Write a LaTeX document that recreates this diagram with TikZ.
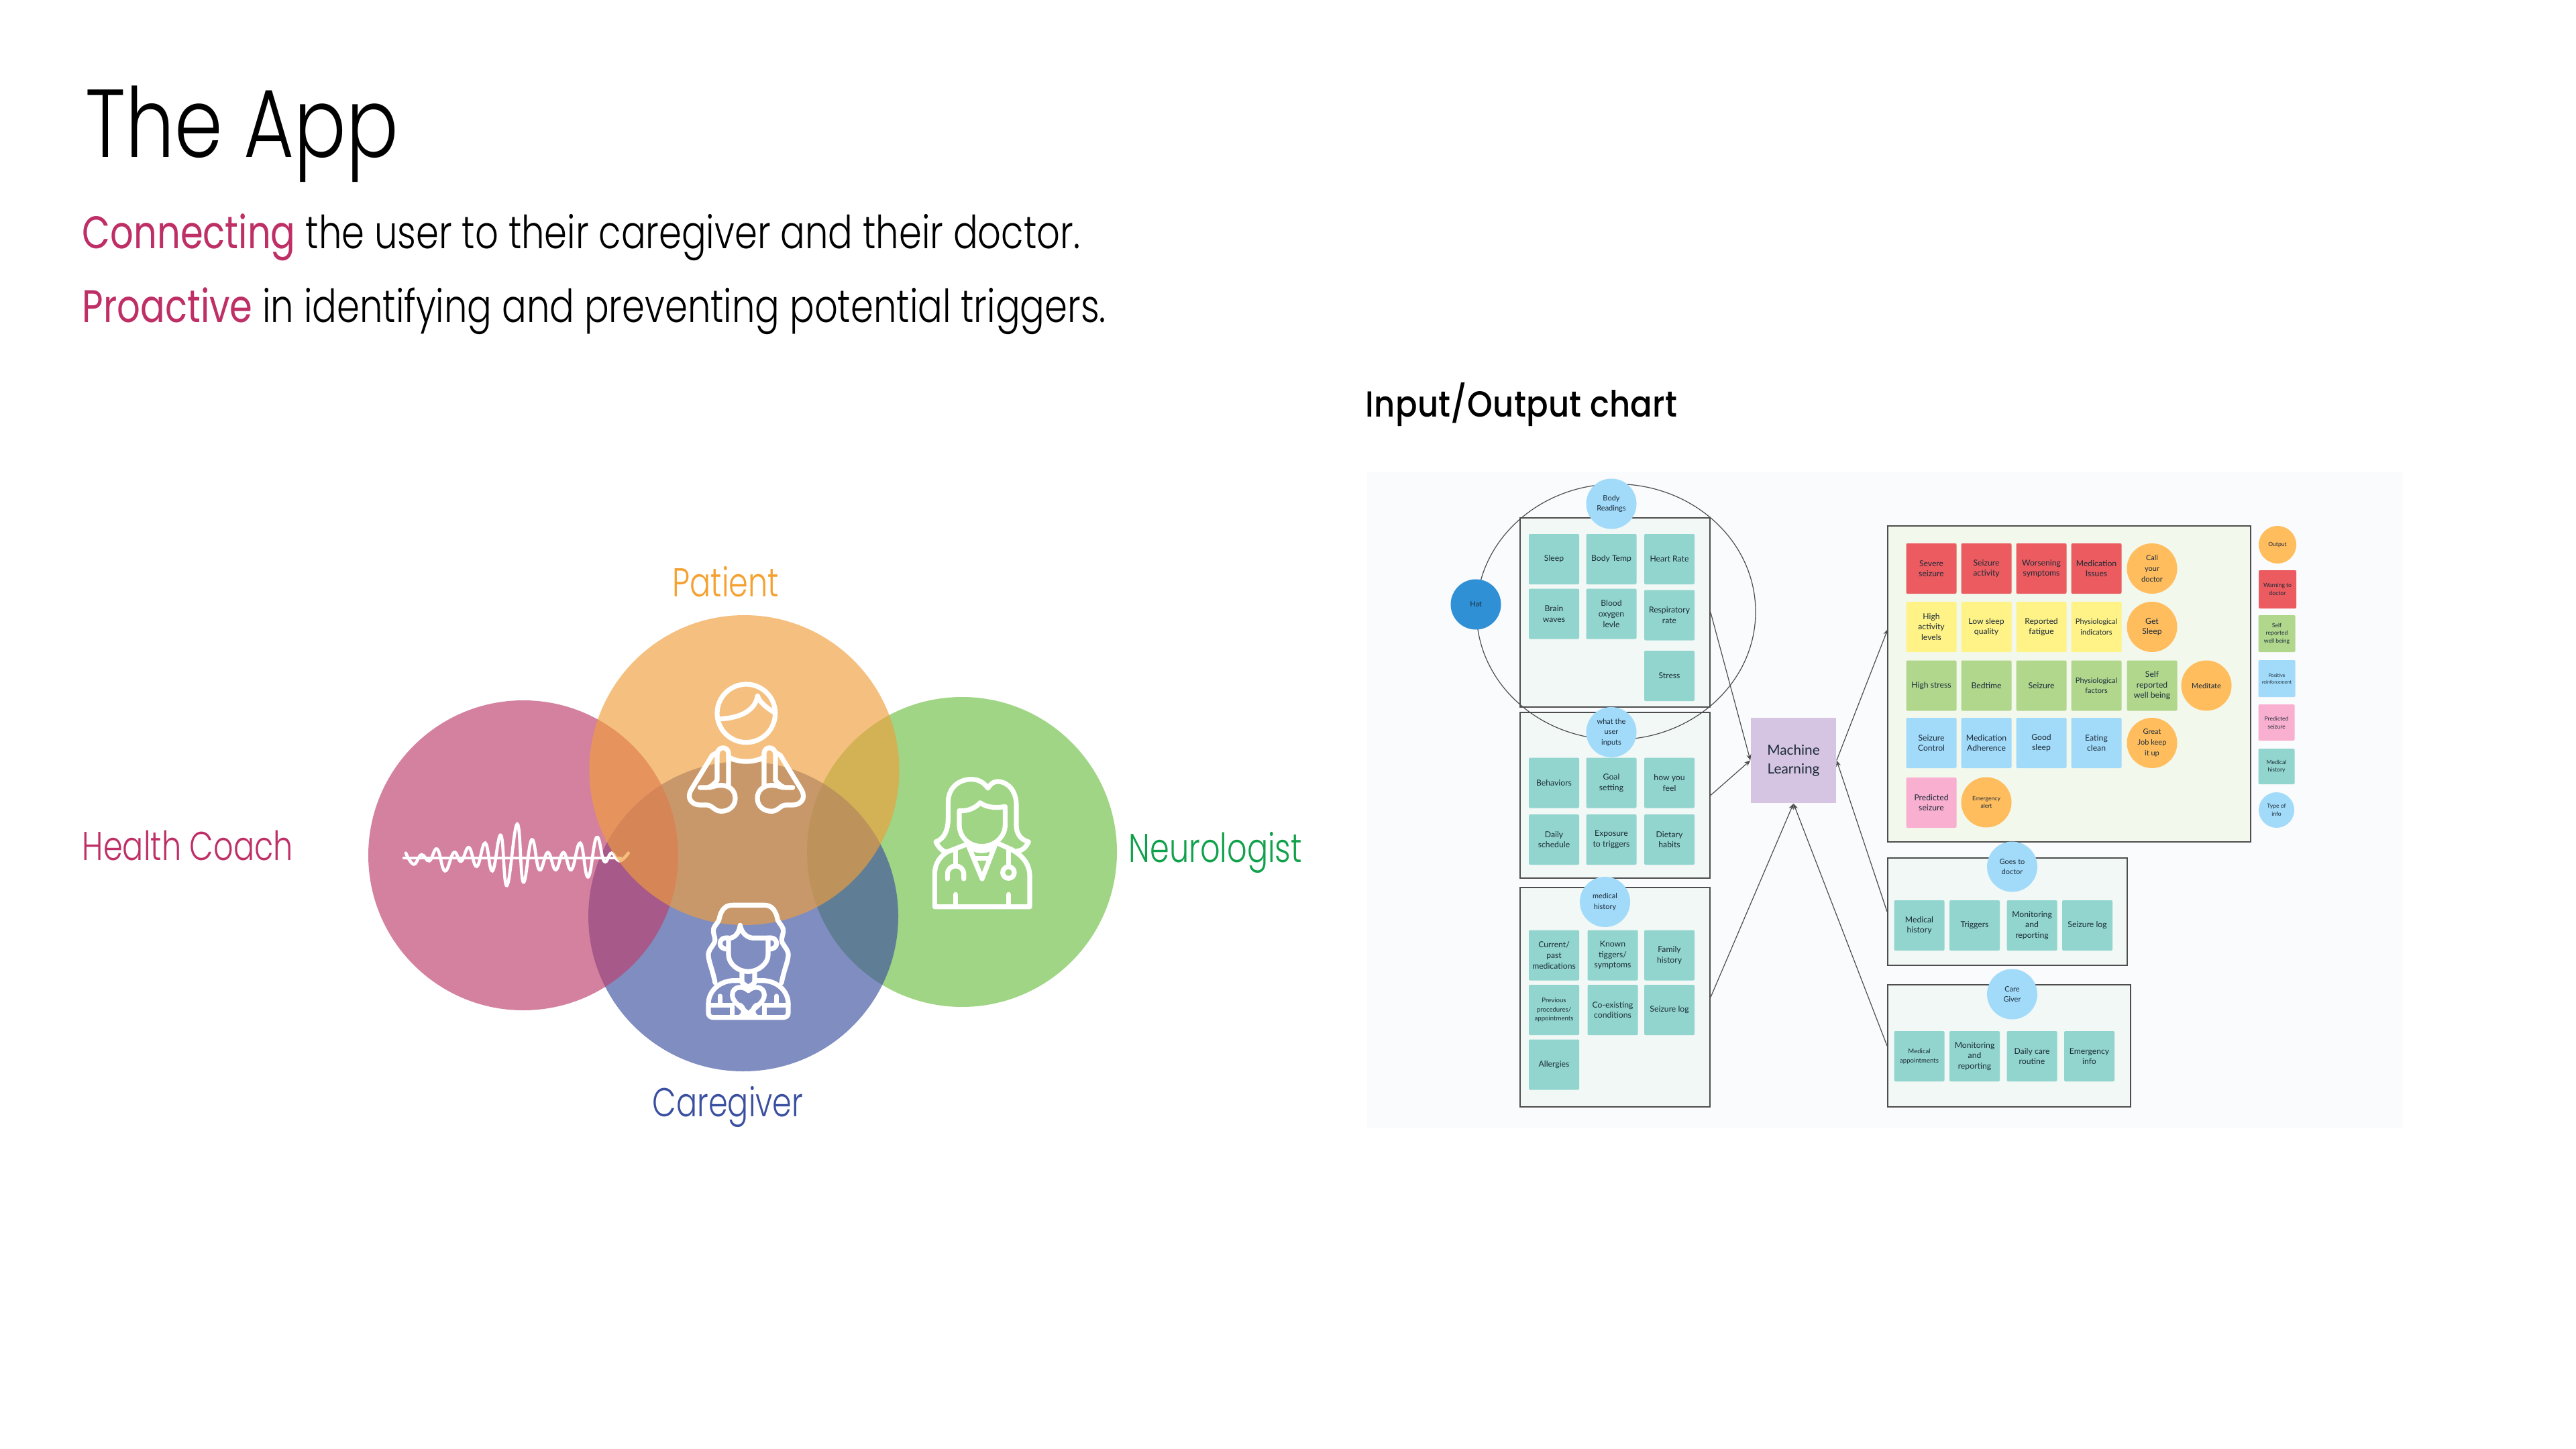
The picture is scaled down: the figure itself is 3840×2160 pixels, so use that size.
\documentclass[tikz,border=0pt]{standalone}
\usepackage{fontspec}
\usetikzlibrary{arrows.meta,shapes.geometric}
\setmainfont{Lato}
\newfontfamily\futT{Poppins Light}[FakeStretch=0.80]
\newfontfamily\futS{Poppins Light}[FakeStretch=0.80]
\newfontfamily\futR{Poppins}[FakeStretch=0.80]
\newfontfamily\futL{Poppins Light}[FakeStretch=0.77]
\newfontfamily\futm{Poppins Medium}[FakeStretch=0.89,LetterSpace=0.5]
\definecolor{teal}{HTML}{92D5CE}
\definecolor{redc}{HTML}{EB5B5F}
\definecolor{yel}{HTML}{FFF287}
\definecolor{grn}{HTML}{B1D78D}
\definecolor{blu}{HTML}{A2DBFA}
\definecolor{pnk}{HTML}{F9AFD0}
\definecolor{org}{HTML}{FFBD5E}
\definecolor{hatc}{HTML}{2F90D5}
\definecolor{mlc}{HTML}{D5C5E2}
\definecolor{ink}{HTML}{1B2A38}
\definecolor{edge}{HTML}{4D4D4D}
\definecolor{vCoral}{HTML}{BD3E6C}
\definecolor{vOrange}{HTML}{F09E3C}
\definecolor{vBlue}{HTML}{3D50A0}
\definecolor{vGreen}{HTML}{6DC044}
\definecolor{lCrimson}{HTML}{BE2F66}
\definecolor{lOrange}{HTML}{F5A02F}
\definecolor{lGreen}{HTML}{12A14B}
\definecolor{lBlue}{HTML}{3A4FA0}
\definecolor{paneltint}{HTML}{FAFBFD}
\definecolor{boxtint}{HTML}{F1F8F6}
\definecolor{outtint}{HTML}{F3F8EC}
\tikzset{
  wh/.style 2 args={minimum width=#1*0.25pt,minimum height=#2*0.25pt},
  fA/.style={font=\fontsize{3.4}{3.9}\selectfont},
  fB/.style={font=\fontsize{3.05}{3.9}\selectfont},
  fC/.style={font=\fontsize{2.75}{3.9}\selectfont},
  fD/.style={font=\fontsize{2.4}{3.4}\selectfont},
  fE/.style={font=\fontsize{2.15}{2.95}\selectfont},
  fF/.style={font=\fontsize{1.8}{2.5}\selectfont},
  card/.style={rectangle,rounded corners=0.5pt,inner sep=0pt,align=center,text=ink,wh={75}{75},fB},
  tcard/.style={card,fill=teal},
  rcard/.style={card,fill=redc},
  ycard/.style={card,fill=yel},
  gcard/.style={card,fill=grn},
  bcard/.style={card,fill=blu},
  pcard/.style={card,fill=pnk},
  dot/.style={circle,inner sep=0pt,align=center,text=ink,minimum size=75*0.25pt,fC},
  bdot/.style={dot,fill=blu},
  odot/.style={dot,fill=org},
  group/.style={rectangle,draw=edge,line width=0.5pt,inner sep=0pt},
  tbox/.style={group,fill=boxtint},
  link/.style={draw=edge,line width=0.3pt},
  tip/.style={-{Stealth[length=2.2pt,width=1.8pt]}},
  venn/.style={circle,inner sep=0pt,minimum size=462*0.25pt,fill opacity=0.65},
  icon/.style={draw=white,line width=1.8pt,line cap=round,line join=round},
  vlabel/.style={inner sep=0pt,font=\futL\fontsize{15}{18}\selectfont},
}
\begin{document}
\begin{tikzpicture}[x=0.25pt,y=-0.25pt]
\useasboundingbox (0,0) rectangle (3840,2160);
\fill[white] (0,0) rectangle (3840,2160);
% heading
\node[anchor=base west,inner sep=0pt,font=\futT\fontsize{36}{44}\selectfont] (title) at (127,235) {The App};
\node[anchor=base west,inner sep=0pt,font=\futS\fontsize{17}{20}\selectfont] (sub1) at (122,371) {\textcolor{lCrimson}{\futR Connecting} the user to their caregiver and their doctor.};
\node[anchor=base west,inner sep=0pt,font=\futS\fontsize{17}{20}\selectfont] (sub2) at (122,481) {\textcolor{lCrimson}{\futR Proactive} in identifying and preventing potential triggers.};
\node[anchor=base west,inner sep=0pt,font=\futm\fontsize{13.5}{16}\selectfont] (chartT) at (2035,622) {Input/Output chart};
% venn
\node[venn,fill=vGreen] (vg) at (1434,1270) {};
\node[venn,fill=vBlue] (vb) at (1108,1366) {};
\node[venn,fill=vCoral] (vc) at (780,1275) {};
% wave
\draw[white,line width=1.1pt,line cap=round] (602,1279) -- (925,1279);
\begin{scope}[shift={(580,1200)},scale=0.33333]
\draw[white,line width=1.15pt,line cap=round] plot[smooth,tension=0.75] coordinates {(75,215) (110,265) (145,222) (180,250) (215,197) (250,295) (290,212) (322,252) (357,190) (392,275) (430,170) (462,295) (500,135) (527,360) (573,85) (600,345) (638,155) (672,290) (710,212) (745,290) (780,212) (815,290) (855,170) (890,322) (928,145) (962,252) (995,215) (1030,250) (1070,215)};
\end{scope}
\node[venn,fill=vOrange] (vo) at (1109.5,1148) {};
% patient icon
\begin{scope}[shift={(1000,1000)},scale=0.33333]
\draw[icon] (337,190) circle (130);
\draw[icon] (225,215) .. controls (300,210) and (375,185) .. (388,112) .. controls (395,140) and (430,165) .. (460,185);
\draw[icon] (258,385) .. controls (300,412) and (375,412) .. (417,385);
\foreach \sx/\ox in {1/0,-1/675}{
\begin{scope}[shift={(\ox,0)},xscale=\sx]
\draw[icon] (258,520) -- (258,370) .. controls (258,335) and (207,335) .. (207,375) -- (207,490) .. controls (190,510) and (175,522) .. (160,522) -- (130,522);
\draw[icon] (170,522) .. controls (190,520) and (195,512) .. (225,512) .. controls (262,512) and (288,535) .. (288,570) .. controls (288,605) and (260,628) .. (225,628) .. controls (195,628) and (185,600) .. (160,600) -- (130,600) .. controls (100,600) and (65,575) .. (92,530) -- (185,378) -- (207,365);
\end{scope}}
\end{scope}
% caregiver icon
\begin{scope}[shift={(1020,1330)},scale=0.33333]
\foreach \sx/\ox in {1/0,-1/573}{
\begin{scope}[shift={(\ox,0)},xscale=\sx]
\draw[icon] (286.5,58) -- (215,58) .. controls (190,58) and (165,70) .. (155,125) .. controls (145,145) and (128,155) .. (130,175) .. controls (132,195) and (142,210) .. (135,225) .. controls (125,245) and (105,260) .. (108,285) .. controls (112,320) and (125,340) .. (138,405);
\draw[icon] (200,205) .. controls (170,200) and (160,215) .. (160,230) .. controls (160,245) and (175,255) .. (195,255);
\draw[icon] (108,500) .. controls (108,440) and (160,395) .. (225,395) -- (258,395);
\draw[icon] (108,500) -- (108,540) .. controls (108,553) and (118,560) .. (130,560) -- (286.5,560);
\draw[icon] (110,505) -- (215,505);
\draw[icon] (215,505) -- (215,555);
\draw[icon] (160,465) -- (160,500);
\draw[icon] (286.5,440) .. controls (265,418) and (215,418) .. (215,460) .. controls (215,490) and (250,510) .. (286.5,545);
\draw[icon] (258,360) -- (258,405) -- (286.5,425);
\draw[icon] (250,505) .. controls (270,520) and (270,545) .. (252,556);
\end{scope}}
\draw[icon] (207,205) .. controls (230,200) and (245,180) .. (250,148) .. controls (255,180) and (280,205) .. (310,205) -- (375,205);
\draw[icon] (198,205) -- (198,280) .. controls (198,320) and (240,355) .. (286,355) .. controls (330,355) and (375,320) .. (375,280) -- (375,205);
\end{scope}
% neurologist icon
\begin{scope}[shift={(1380,1140)},scale=0.33333]
\draw[icon] (90,390) .. controls (70,385) and (55,365) .. (45,345) .. controls (85,330) and (100,290) .. (100,240) -- (100,170) .. controls (100,100) and (150,65) .. (205,65) .. controls (240,65) and (265,85) .. (278,105) .. controls (290,85) and (305,75) .. (320,75) .. controls (370,75) and (405,120) .. (405,180) -- (405,270) .. controls (405,310) and (425,335) .. (460,345) .. controls (450,365) and (435,385) .. (410,385);
\draw[icon] (150,205) .. controls (190,210) and (225,190) .. (243,170) .. controls (270,190) and (310,195) .. (355,187) -- (355,270) .. controls (355,320) and (310,365) .. (250,365) .. controls (190,365) and (150,320) .. (150,270) -- cycle;
\draw[icon] (185,355) -- (95,390) .. controls (65,410) and (40,440) .. (40,490) -- (40,635) -- (465,635) -- (465,500) .. controls (465,450) and (440,410) .. (385,380) -- (320,350);
\draw[icon] (190,360) -- (252,510) -- (310,360);
\draw[icon] (210,375) .. controls (235,388) and (270,388) .. (295,372);
\draw[icon] (225,418) -- (278,418);
\draw[icon] (133,385) -- (133,450);
\draw[icon] (97,510) -- (97,490) .. controls (97,440) and (170,440) .. (170,490) -- (170,510);
\draw[icon] (370,380) -- (370,450);
\draw[icon] (370,482) circle (26);
\draw[icon] (133,580) -- (133,630);
\draw[icon] (370,580) -- (370,630);
\end{scope}
% venn labels
\node[vlabel,text=lOrange] (lpat) at (1082,867) {Patient};
\node[vlabel,text=lCrimson,anchor=west] (lhc) at (122,1261) {Health Coach};
\node[vlabel,text=lGreen,anchor=west] (lneu) at (1682,1271) {Neurologist};
\node[vlabel,text=lBlue] (lcar) at (1085,1650) {Caregiver};
% chart panel
\node[rectangle,fill=paneltint,inner sep=0pt,wh={1543}{979}] (panel) at (2809.5,1192.5) {};
% groups
\node[tbox,wh={283}{282}] (bodybox) at (2407.5,913) {};
\node[tbox,wh={283}{247}] (inputbox) at (2407.5,1185.5) {};
\node[tbox,wh={283}{327}] (medbox) at (2407.5,1486.5) {};
\node[group,fill=outtint,wh={541}{471}] (outbox) at (3084.5,1019.5) {};
\node[tbox,wh={357}{160}] (docbox) at (2992.5,1359) {};
\node[tbox,wh={361.5}{182}] (carebox) at (2994.75,1559) {};
\node[ellipse,draw=edge,line width=0.3pt,inner sep=0pt,wh={416}{381}] (hatring) at (2409,912) {};
% body readings
\node[tcard] (b1) at (2316.5,833.5) {Sleep};
\node[tcard] (b2) at (2402,833.5) {Body Temp};
\node[tcard] (b3) at (2488.5,833.5) {Heart Rate};
\node[tcard] (b4) at (2316.5,915) {Brain\\waves};
\node[tcard] (b5) at (2402,915) {Blood\\oxygen\\levle};
\node[tcard] (b6) at (2488.5,917) {Respiratory\\rate};
\node[tcard] (b7) at (2488.5,1007.5) {Stress};
\node[dot,fill=hatc] (hat) at (2200,901) {Hat};
\node[bdot] (bodyc) at (2402,751) {Body\\Readings};
% user inputs
\node[tcard] (i1) at (2316.5,1167) {Behaviors};
\node[tcard] (i2) at (2402,1167) {Goal\\setting};
\node[tcard] (i3) at (2488.5,1167) {how you\\feel};
\node[tcard] (i4) at (2316.5,1251.5) {Daily\\schedule};
\node[tcard] (i5) at (2402,1251.5) {Exposure\\to triggers};
\node[tcard] (i6) at (2488.5,1251.5) {Dietary\\habits};
\node[bdot] (inputc) at (2402,1091.5) {what the\\user\\inputs};
% medical history
\node[tcard] (m1) at (2316.5,1424) {Current/\\past\\medications};
\node[tcard] (m2) at (2404,1424) {Known\\tiggers/\\symptoms};
\node[tcard] (m3) at (2488.5,1424) {Family\\history};
\node[tcard,fD] (m4) at (2316.5,1505.5) {Previous\\procedures/\\appointments};
\node[tcard] (m5) at (2404,1505.5) {Co-existing\\conditions};
\node[tcard] (m6) at (2488.5,1505.5) {Seizure log};
\node[tcard] (m7) at (2316.5,1587) {Allergies};
\node[bdot] (medc) at (2392.5,1344.5) {medical\\history};
% machine learning
\node[rectangle,fill=mlc,inner sep=0pt,align=center,text=ink,wh={127}{127},font=\fontsize{5.2}{6.9}\selectfont] (ml) at (2673.5,1133.5) {Machine\\Learning};
% outputs
\node[rcard] (o1) at (2879,847.5) {Severe\\seizure};
\node[rcard] (o2) at (2961,847.5) {Seizure\\activity};
\node[rcard] (o3) at (3043,847.5) {Worsening\\symptoms};
\node[rcard] (o4) at (3125,847.5) {Medication\\Issues};
\node[odot] (o5) at (3208,847.5) {Call\\your\\doctor};
\node[ycard] (y1) at (2879,934.5) {High\\activity\\levels};
\node[ycard] (y2) at (2961,934.5) {Low sleep\\quality};
\node[ycard] (y3) at (3043,934.5) {Reported\\fatigue};
\node[ycard,fC] (y4) at (3125,934.5) {Physiological\\indicators};
\node[odot,fB] (y5) at (3208,934.5) {Get\\Sleep};
\node[gcard] (g1) at (2879,1022) {High stress};
\node[gcard] (g2) at (2961,1022) {Bedtime};
\node[gcard] (g3) at (3043,1022) {Seizure};
\node[gcard,fC] (g4) at (3125,1022) {Physiological\\factors};
\node[gcard] (g5) at (3208,1022) {Self\\reported\\well being};
\node[odot] (g6) at (3289,1022) {Meditate};
\node[bcard] (c1) at (2879,1107.5) {Seizure\\Control};
\node[bcard] (c2) at (2961,1107.5) {Medication\\Adherence};
\node[bcard] (c3) at (3043,1107.5) {Good\\sleep};
\node[bcard] (c4) at (3125,1107.5) {Eating\\clean};
\node[odot] (c5) at (3208,1107.5) {Great\\Job keep\\it up};
\node[pcard] (p1) at (2879,1196.5) {Predicted\\seizure};
\node[odot,fE] (p2) at (2961,1196) {Emergency\\alert};
% legend
\node[odot,fE,minimum size=56*0.25pt] (k1) at (3395,812) {Output};
\node[rcard,fE,wh={56}{57}] (k2) at (3395,878.5) {Warning to\\doctor};
\node[gcard,fE,wh={55}{55}] (k3) at (3394,944.5) {Self\\reported\\well being};
\node[bcard,fF,wh={55}{55}] (k4) at (3394,1011.5) {Positive\\reinforcement};
\node[pcard,fE,wh={54}{54}] (k5) at (3393.5,1077) {Predicted\\seizure};
\node[tcard,fE,wh={54}{53}] (k6) at (3393.5,1142.5) {Medical\\history};
\node[bdot,fE,minimum size=53*0.25pt] (k7) at (3393.5,1207.5) {Type of\\info};
% doctor
\node[tcard] (d1) at (2861,1379.5) {Medical\\history};
\node[tcard] (d2) at (2943.5,1379.5) {Triggers};
\node[tcard] (d3) at (3029,1379.5) {Monitoring\\and\\reporting};
\node[tcard] (d4) at (3111.5,1379.5) {Seizure log};
\node[bdot] (docc) at (2999.5,1292) {Goes to\\doctor};
% care giver
\node[tcard,fD] (e1) at (2861,1574.5) {Medical\\appointments};
\node[tcard] (e2) at (2943.5,1574.5) {Monitoring\\and\\reporting};
\node[tcard] (e3) at (3029,1574.5) {Daily care\\routine};
\node[tcard] (e4) at (3114.5,1574.5) {Emergency\\info};
\node[bdot] (carec) at (2999.5,1482) {Care\\Giver};
% connectors
\coordinate (outin) at (2814,938);
\draw[link,tip] (bodybox.east) -- (ml.west);
\draw[link,tip] (inputbox.east) -- (ml.west);
\draw[link,tip] (medbox.east) -- (ml.south);
\draw[link,tip] (ml.east) -- (outin);
\draw[link,tip] (docbox.west) -- (ml.east);
\draw[link,tip] (carebox.west) -- (ml.south);
\end{tikzpicture}
\end{document}
